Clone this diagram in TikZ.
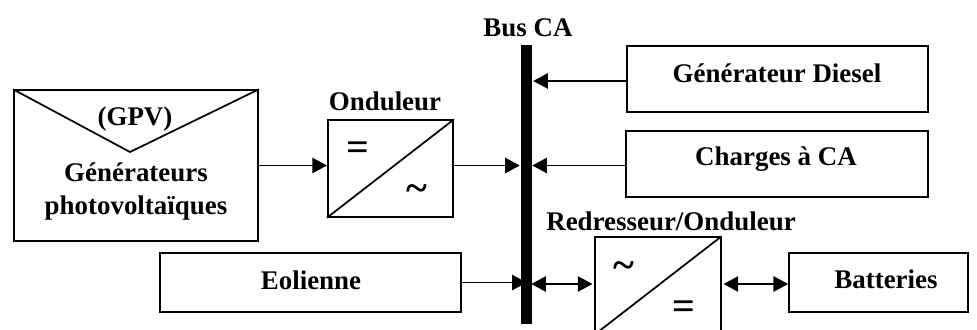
\documentclass[tikz,border=0pt]{standalone}
\usepackage{fontspec}
\setmainfont{Liberation Serif}
\usetikzlibrary{arrows.meta, calc}
\tikzset{
  block/.style={rectangle, draw, line width=1.3pt, inner sep=0pt},
  conv/.style={block, minimum width=94pt, minimum height=72.5pt},
  lbl/.style={inner sep=0pt, align=center, font=\bfseries\fontsize{20.2}{24.75}\selectfont},
  sym/.style={inner sep=0pt, font=\bfseries\fontsize{30}{30}\selectfont},
  arrow/.style={-{Triangle[length=11pt, width=11.5pt]}, line width=1.3pt},
  darrow/.style={{Triangle[length=11pt, width=11.5pt]}-{Triangle[length=11pt, width=11.5pt]}, line width=1.3pt},
}
\begin{document}
\begin{tikzpicture}[x=0.75pt, y=-0.75pt]
  \clip (0,0) rectangle (977,329);

  % Bus
  \node[rectangle, fill=black, inner sep=0pt, minimum width=8.25pt, minimum height=209pt] (bus) at (526.5,184.5) {};
  \node[lbl] (buslbl) at (528,28) {Bus CA};

  % PV generator
  \node[block, minimum width=183pt, minimum height=113pt] (gpv) at (136,165.5) {};
  \coordinate (gpvv) at (130,152);
  \draw[line width=1.3pt] (gpv.north west) -- (gpvv) -- (gpv.north east);
  \node[lbl] (gpvlbl) at (135,119) {(GPV)};
  \node[lbl] (gpvtxt) at (136,192) {Générateurs\\photovoltaïques};

  % Inverter
  \node[conv] (ond) at (390.5,168.5) {};
  \draw[line width=1.3pt] (ond.south west) -- (ond.north east);
  \node[lbl] (ondlbl) at (385,101) {Onduleur};
  \node[sym] (ondeq) at (358,151) {=};
  \node[sym] (ondac) at (417,193) {\textasciitilde};

  % Wind turbine
  \node[block, minimum width=225.75pt, minimum height=44.25pt] (eol) at (310.5,282.5) {};
  \node[lbl] (eollbl) at (311,280) {Eolienne};

  % Diesel, loads
  \node[block, minimum width=226pt, minimum height=49.5pt] (die) at (777.5,79) {};
  \node[lbl] (dielbl) at (777,73) {Générateur Diesel};
  \node[block, minimum width=226.5pt, minimum height=49.5pt] (chg) at (777,164) {};
  \node[lbl] (chglbl) at (776,159) {Charges à CA};

  % Rectifier / inverter (cut by the page)
  \node[conv] (red) at (658,285.5) {};
  \draw[line width=1.3pt] (red.south west) -- (red.north east);
  \node[lbl] (redlbl) at (671,221) {Redresseur/Onduleur};
  \node[sym] (redac) at (624,270) {\textasciitilde};
  \node[sym] (redeq) at (684,310) {=};

  % Batteries
  \node[block, minimum width=134.25pt, minimum height=44.25pt] (bat) at (878.5,282.5) {};
  \node[lbl] (batlbl) at (886,279) {Batteries};

  % Connections
  \coordinate (dieout) at ($(die.west)+(0,2)$);
  \coordinate (eolout) at ($(eol.east)+(0,0)$);
  \coordinate (redin) at ($(red.west)+(-2,-1.5)$);
  \coordinate (redout) at ($(red.east)+(2,-1.5)$);
  \draw[arrow] (gpv.east) -- (ond.west |- gpv.east);
  \draw[arrow] (ond.east |- gpv.east) -- ($(bus.west |- gpv.east)+(-1,0)$);
  \draw[arrow] (dieout) -- ($(bus.east |- dieout)+(1,0)$);
  \draw[arrow] (chg.west |- gpv.east) -- (bus.east |- gpv.east);
  \draw[arrow] (eolout) -- ($(bus.west |- eolout)+(6,0)$);
  \draw[darrow] ($(bus.east |- redin)+(-1,0)$) -- (redin);
  \draw[darrow] (redout) -- (bat.west |- redout);
\end{tikzpicture}
\end{document}
